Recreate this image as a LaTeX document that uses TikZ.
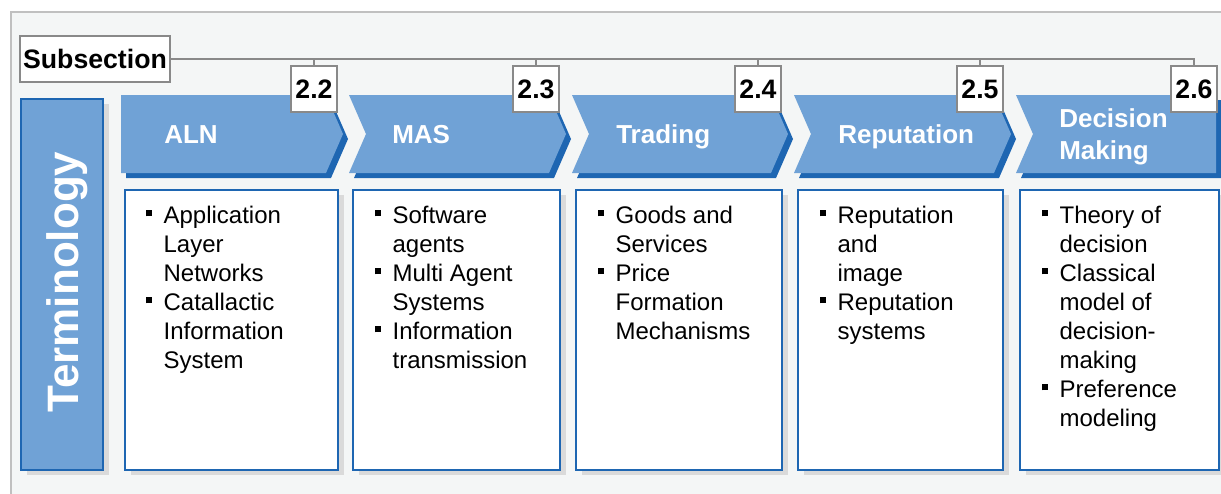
\documentclass[tikz,border=0pt]{standalone}
\usepackage{fontspec}
\setmainfont{Liberation Sans}
\usepackage{tikz}
\definecolor{panelbg}{RGB}{244,246,246}
\definecolor{panelline}{RGB}{192,192,192}
\definecolor{chevblue}{RGB}{112,162,214}
\definecolor{darkblue}{RGB}{30,102,178}
\definecolor{shgray}{RGB}{218,218,218}
\definecolor{linegray}{RGB}{137,137,137}
\newcommand{\sqb}{\rule[5pt]{4.5pt}{4.5pt}}
\tikzset{%
    chevlbl/.style={anchor=base west,inner sep=0pt,text=white,font=\fontsize{19.5}{24}\selectfont\bfseries},
    secbox/.style={draw=linegray,line width=1.5pt,fill=white,inner sep=0pt,font=\fontsize{20}{24}\selectfont\bfseries},
    listbox/.style={draw=darkblue,line width=1.5pt,fill=white,anchor=north west,inner sep=0pt,minimum height=210pt,
        preaction={fill=shgray,transform canvas={shift={(6,5)}}}},
    items/.style={anchor=base west,inner sep=0pt,font=\fontsize{18}{21.75}\selectfont},
    conn/.style={draw=linegray,line width=1.5pt}
}

\begin{document}
\begin{tikzpicture}[x=0.75pt,y=-0.75pt]
    \clip (0,0) rectangle (1221,493);
    \draw[panelline,line width=1.5pt,fill=panelbg] (11,12) rectangle (1240,510);
    % left bar
    \node[listbox,fill=chevblue,minimum width=61.5pt,minimum height=278.25pt] (term) at (20,98) {};
    \node[rotate=90,anchor=base,inner sep=0pt,text=white,font=\fontsize{33}{40}\selectfont\bfseries] (termlbl) at (78,282) {Terminology};
    % chevrons
    \fill[darkblue,shift={(5,5)}] (121,95) -- (326,95) -- (343,134) -- (326,173) -- (121,173) -- cycle;
    \fill[chevblue] (121,95) -- (326,95) -- (343,134) -- (326,173) -- (121,173) -- cycle;
    \foreach \l/\t in {349/566,572/788,794/1011}{
        \fill[darkblue,shift={(5,5)}] (\l,95) -- (\t-17,95) -- (\t,134) -- (\t-17,173) -- (\l,173) -- (\l+17,134) -- cycle;
        \fill[chevblue] (\l,95) -- (\t-17,95) -- (\t,134) -- (\t-17,173) -- (\l,173) -- (\l+17,134) -- cycle;
    }
    \fill[darkblue,shift={(5,5)}] (1016,95) -- (1216,95) -- (1216,173) -- (1016,173) -- (1033,134) -- cycle;
    \fill[chevblue] (1016,95) -- (1216,95) -- (1216,173) -- (1016,173) -- (1033,134) -- cycle;
    \node[chevlbl] (laln) at (164,143) {ALN};
    \node[chevlbl] (lmas) at (392,143) {MAS};
    \node[chevlbl] (ltrd) at (616,143) {Trading};
    \node[chevlbl] (lrep) at (838,143) {Reputation};
    \node[chevlbl] (ldm) at (1059,127) {\begin{tabular}[t]{@{}l@{}}Decision\\Making\end{tabular}};
    % subsection numbers
    \node[secbox,minimum width=113pt,minimum height=34pt] (sub) at (95,59) {Subsection};
    \node[secbox,minimum width=35pt,minimum height=34.5pt] (n22) at (314,89) {2.2};
    \node[secbox,minimum width=35pt,minimum height=34.5pt] (n23) at (536,89) {2.3};
    \node[secbox,minimum width=35pt,minimum height=34.5pt] (n24) at (758,89) {2.4};
    \node[secbox,minimum width=35pt,minimum height=34.5pt] (n25) at (980,89) {2.5};
    \node[secbox,minimum width=35pt,minimum height=34.5pt] (n26) at (1194,89) {2.6};
    \draw[conn] (sub.east) -| (n26.north);
    \foreach \n in {n22,n23,n24,n25}
        \draw[conn] (\n.north) -- (\n.north |- sub.east);
    % content boxes
    \node[listbox,minimum width=159.75pt] (baln) at (124,189) {};
    \node[listbox,minimum width=155.25pt] (bmas) at (352,189) {};
    \node[listbox,minimum width=154.5pt] (btrd) at (575,189) {};
    \node[listbox,minimum width=153.75pt] (brep) at (797,189) {};
    \node[listbox,minimum width=149.25pt] (bdm) at (1019,189) {};
    \node[items] (taln) at (146,223) {\begin{tabular}[t]{@{}l@{\hspace{8.5pt}}l@{}}
        \sqb & Application\\ & Layer\\ & Networks\\ \sqb & Catallactic\\ & Information\\ & System\end{tabular}};
    \node[items] (tmas) at (375,223) {\begin{tabular}[t]{@{}l@{\hspace{8.5pt}}l@{}}
        \sqb & Software\\ & agents\\ \sqb & Multi Agent\\ & Systems\\ \sqb & Information\\ & transmission\end{tabular}};
    \node[items] (ttrd) at (598,223) {\begin{tabular}[t]{@{}l@{\hspace{8.5pt}}l@{}}
        \sqb & Goods and\\ & Services\\ \sqb & Price\\ & Formation\\ & Mechanisms\end{tabular}};
    \node[items] (trep) at (820,223) {\begin{tabular}[t]{@{}l@{\hspace{8.5pt}}l@{}}
        \sqb & Reputation\\ & and\\ & image\\ \sqb & Reputation\\ & systems\end{tabular}};
    \node[items] (tdm) at (1042,223) {\begin{tabular}[t]{@{}l@{\hspace{8.5pt}}l@{}}
        \sqb & Theory of\\ & decision\\ \sqb & Classical\\ & model of\\ & decision-\\ & making\\ \sqb & Preference\\ & modeling\end{tabular}};
\end{tikzpicture}
\end{document}
